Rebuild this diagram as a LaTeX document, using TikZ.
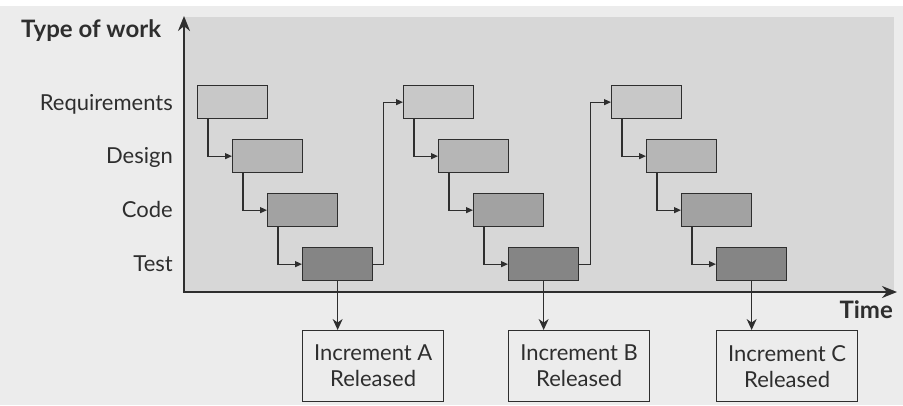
\documentclass[tikz,border=0pt]{standalone}
\usepackage{fontspec}
\setmainfont{Lato}
\usetikzlibrary{arrows.meta}
\definecolor{pagebg}{HTML}{ECECEC}
\definecolor{plotbg}{HTML}{D7D7D7}
\definecolor{reqfill}{HTML}{C8C8C8}
\definecolor{desfill}{HTML}{B6B6B6}
\definecolor{codefill}{HTML}{A2A2A2}
\definecolor{testfill}{HTML}{858585}
\definecolor{ink}{HTML}{2E2E2E}
\tikzset{
  stage/.style={draw=ink, line width=1.3pt, minimum width=70pt, minimum height=33pt,
    inner sep=0pt, anchor=north west},
  release/.style={draw=ink, line width=1.3pt, fill=pagebg, minimum width=141pt,
    minimum height=71pt, inner sep=0pt, anchor=north west, align=center,
    font=\fontsize{22}{26}\selectfont, text=ink},
  conn/.style={draw=ink, line width=1.1pt, -{Triangle[length=7pt,width=6pt]}},
  down/.style={draw=ink, line width=1.3pt, -{Stealth[length=11pt,width=10pt]}},
  axis/.style={draw=ink, line width=2.2pt, -{Stealth[length=15pt,width=12pt]}},
  rowlabel/.style={anchor=base east, font=\fontsize{22}{26}\selectfont, text=ink, inner sep=0pt},
  axislabel/.style={font=\bfseries\fontsize{24}{28}\selectfont, text=ink, inner sep=0pt}
}
\begin{document}
\begin{tikzpicture}[x=1pt, y=-1pt]
  % page and plot backgrounds
  \fill[pagebg] (0,0) rectangle (903,405);
  \fill[white] (0,0) rectangle (903,6);
  \useasboundingbox (0,0) rectangle (903,405);
  \fill[plotbg] (184,17) rectangle (894,292);

  % stages of the three increments
  \foreach \g/\x in {1/197, 2/403, 3/611} {
    \node[stage, fill=reqfill]  (r\g) at (\x,85) {};
    \node[stage, fill=desfill]  (d\g) at (\x+35,139) {};
    \node[stage, fill=codefill] (c\g) at (\x+70,193) {};
    \node[stage, fill=testfill] (t\g) at (\x+105,247) {};
    \draw[conn] ([xshift=11pt]r\g.south west) |- (d\g.west);
    \draw[conn] ([xshift=11pt]d\g.south west) |- (c\g.west);
    \draw[conn] ([xshift=11pt]c\g.south west) |- (t\g.west);
  }

  % released increments
  \node[release] (i1) at (302,330) {Increment A\\Released};
  \node[release] (i2) at (508,330) {Increment B\\Released};
  \node[release] (i3) at (716,330) {Increment C\\Released};
  \foreach \g in {1,2,3}
    \draw[down] (t\g.south) -- (t\g.south |- i\g.north);

  % feedback into the next increment
  \draw[conn] (t1.east) -- ++(10pt,0) |- (r2.west);
  \draw[conn] (t2.east) -- ++(11pt,0) |- (r3.west);

  % axes
  \coordinate (o) at (184,292);
  \coordinate (ytop) at (184,16);
  \coordinate (xend) at (897,292);
  \draw[axis] (o) -- (ytop);
  \draw[axis] ([xshift=-1.1pt]o) -- (xend);

  \node[axislabel, anchor=base west] (ylab) at (21,37) {Type of work};
  \node[axislabel, anchor=base east] (xlab) at (893,318) {Time};

  \node[rowlabel] (lr) at (173,110) {Requirements};
  \node[rowlabel] (ld) at (173,163) {Design};
  \node[rowlabel] (lc) at (173,217) {Code};
  \node[rowlabel] (lt) at (173,271) {Test};
\end{tikzpicture}
\end{document}
